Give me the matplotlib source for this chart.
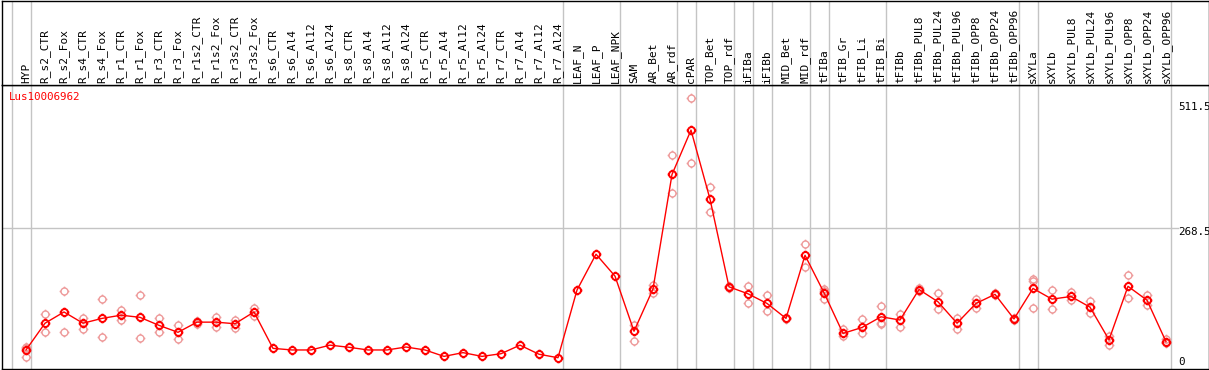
import matplotlib
matplotlib.use("Agg")
import matplotlib.pyplot as plt
from matplotlib.path import Path
import numpy as np

# ---------------- data ----------------
categories = ["HYP", "R_s2_CTR", "R_s2_Fox", "R_s4_CTR", "R_s4_Fox", "R_r1_CTR", "R_r1_Fox",
              "R_r3_CTR", "R_r3_Fox", "R_r1s2_CTR", "R_r1s2_Fox", "R_r3s2_CTR", "R_r3s2_Fox",
              "R_s6_CTR", "R_s6_Al4", "R_s6_Al12", "R_s6_Al24", "R_s8_CTR", "R_s8_Al4",
              "R_s8_Al12", "R_s8_Al24", "R_r5_CTR", "R_r5_Al4", "R_r5_Al12", "R_r5_Al24",
              "R_r7_CTR", "R_r7_Al4", "R_r7_Al12", "R_r7_Al24", "LEAF_N", "LEAF_P", "LEAF_NPK",
              "SAM", "AR_Bet", "AR_rdf", "cPAR", "TOP_Bet", "TOP_rdf", "iFIBa", "iFIBb",
              "MID_Bet", "MID_rdf", "tFIBa", "tFIB_Gr", "tFIB_Li", "tFIB_Bi", "tFIBb",
              "tFIBb_PUL8", "tFIBb_PUL24", "tFIBb_PUL96", "tFIBb_OPP8", "tFIBb_OPP24",
              "tFIBb_OPP96", "sXYLa", "sXYLb", "sXYLb_PUL8", "sXYLb_PUL24", "sXYLb_PUL96",
              "sXYLb_OPP8", "sXYLb_OPP24", "sXYLb_OPP96"]

mean_values = [41, 91, 112, 91, 100, 106, 102, 87, 74, 93, 93, 90, 112,
               44, 41, 41, 50, 46, 41, 41, 46.5, 41, 29, 36, 29, 34, 50, 33, 26.5,
               153, 220, 179, 76, 155, 369, 452, 323, 159, 146, 128, 100, 218,
               148, 72, 83, 103, 97, 154, 131, 91, 128, 145, 99,
               156, 136, 141, 121, 60, 160, 134, 56.5]

replicates = [[47, 28, 44], [108, 75], [151, 74], [101, 80], [136, 65], [115, 97],
              [143, 63], [101, 74], [87, 61], [95, 90], [102, 83], [97, 82], [119, 104],
              [], [], [], [], [], [], [], [], [], [], [], [], [], [], [], [],
              [], [], [],
              [88, 58], [163, 148], [405, 334], [511.5, 390], [345, 298], [161, 157],
              [161, 128], [144, 114], [101, 99], [239, 196], [155, 152, 137], [80, 67],
              [99, 72], [123, 91, 90], [108, 83], [157, 152], [147, 117], [101, 81],
              [137, 119], [147, 143], [101, 97], [173, 170, 120], [154, 118], [149, 134],
              [132, 110], [68, 50], [181, 139], [144, 125], [62, 54]]

group_ends = [-1, 0, 28, 31, 34, 35, 37, 38, 39, 41, 42, 45, 52, 53, 60]
y_ticks = [0, 268.5, 511.5]
title = "Lus10006962"

assert len(categories) == len(mean_values) == len(replicates)

# ---------------- style ----------------
W, H = 1209, 370
DPI = 100
RED = "#FF0000"
PINK = "#EE9A9A"
GRID = "#C4C4C4"
FONT = "DejaVu Sans Mono"

# marker: circle with little ticks at the four cardinal points
circ = Path.unit_circle()
ticks = Path([(1.0, 0), (1.4, 0), (-1.0, 0), (-1.4, 0), (0, 1.0), (0, 1.4), (0, -1.0), (0, -1.4)],
             [Path.MOVETO, Path.LINETO] * 4)
marker = Path.make_compound_path(circ, ticks)

fig = plt.figure(figsize=(W / DPI, H / DPI), dpi=DPI)

def fx(px):
    return px / W

def fy(py):
    return 1 - py / H

left_px, right_px = 1.5, 1208.5
head_top, head_bot = 0.5, 85
plot_bot = 369

ax = fig.add_axes([fx(left_px), fy(plot_bot), fx(right_px - left_px), (plot_bot - head_bot) / H])
hx = fig.add_axes([fx(left_px), fy(head_bot), fx(right_px - left_px), (head_bot - head_top) / H])

# x mapping: column i at pixel 26 + 19 i
x0, dx = 26.0, 19.0
xlim = ((left_px - x0) / dx, (right_px - x0) / dx)
# y mapping: value v at pixel 371.9 - 0.535 v
y0, sy = 371.9, 0.535
ylim = ((y0 - plot_bot) / sy, (y0 - head_bot) / sy)

for a in (ax, hx):
    a.set_xlim(*xlim)
    a.set_xticks([])
    a.set_yticks([])
    for s in a.spines.values():
        s.set_color("black")
        s.set_linewidth(1.0)
    for g in group_ends:
        a.axvline(g + 0.25, color=GRID, lw=1.0, zorder=0)

ax.set_ylim(*ylim)
hx.set_ylim(0, 1)

# horizontal grid line
x_end = (1178 - x0) / dx
ax.plot([xlim[0], x_end], [y_ticks[1], y_ticks[1]], color=GRID, lw=1.0, zorder=0)

xs = np.arange(len(categories))

# replicates
rx, ry = [], []
for i, reps in enumerate(replicates):
    for r in reps:
        rx.append(i)
        ry.append(r)
ax.plot(rx, ry, linestyle="none", marker=marker, markersize=7.0, markerfacecolor="none",
        markeredgecolor=PINK, markeredgewidth=1.0, zorder=2)

# means
ax.plot(xs, mean_values, color=RED, lw=1.0, zorder=3)
ax.plot(xs, mean_values, linestyle="none", marker=marker, markersize=7.0, markerfacecolor="none",
        markeredgecolor=RED, markeredgewidth=1.4, zorder=4)

# title
ax.text((9.0 - x0) / dx, (y0 - 97) / sy, title, color=RED, fontsize=7.8, family=FONT,
        ha="left", va="center")

# y tick labels on the right
tick_pos = {0: 362, 268.5: 232, 511.5: 107}
for t in y_ticks:
    lab = ("%g" % t)
    ax.text((1178 - x0) / dx, (y0 - tick_pos[t]) / sy, lab, fontsize=7.8, family=FONT,
            color="black", ha="left", va="center", clip_on=True)

# header labels
label_base = 1 - (83 - head_top) / (head_bot - head_top)
for i, c in enumerate(categories):
    hx.text(i, label_base, c, rotation=90, ha="center", va="bottom", fontsize=8.0,
            family=FONT, color="black")

fig.savefig("out.png", dpi=DPI)
